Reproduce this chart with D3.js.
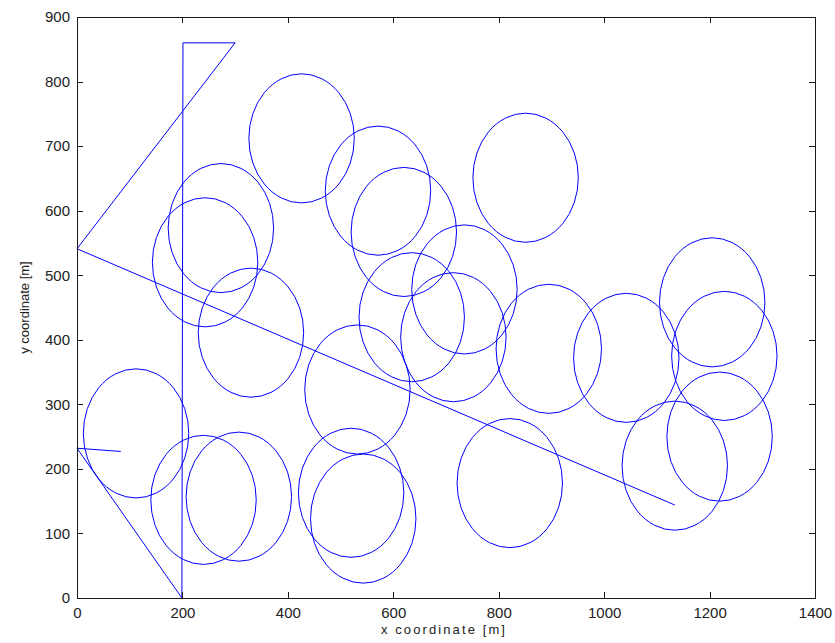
<!DOCTYPE html>
<html>
<head>
<meta charset="utf-8">
<script src="https://cdn.jsdelivr.net/npm/d3@7"></script>
<style>
  html, body { margin: 0; padding: 0; background: #fff; }
  svg { display: block; }
</style>
</head>
<body>
<svg id="chart" width="835" height="643"></svg>
<script>
// ---- data ----
const xTicks = [0, 200, 400, 600, 800, 1000, 1200, 1400];
const yTicks = [0, 100, 200, 300, 400, 500, 600, 700, 800, 900];

// sensor circle centres [m]
const circleX = [112, 240, 307, 426, 571, 273, 243, 330, 620, 635, 735, 714, 532, 851, 895, 520, 543, 821, 1042, 1205, 1228, 1219, 1134];
const circleY = [255, 152, 157, 712, 631, 573, 520, 411, 567, 435, 478, 404, 323, 651, 386, 163, 123, 178, 372, 458, 375, 250, 205];
const circleR = [100, 100, 100, 100, 100, 100, 100, 100, 100, 100, 100, 100, 100, 100, 100, 100, 100, 100, 100, 100, 100, 100, 100];

// trajectory
const pathX = [83, 0, 199, 201, 300, 0, 1134];
const pathY = [227, 232, 0, 860, 860, 541, 144];

const xLabel = "x coordinate [m]";
const yLabel = "y coordinate [m]";

// ---- layout ----
const svg = d3.select("#chart");
const mLeft = 77, mRight = 815, mTop = 17, mBottom = 598;

const x = d3.scaleLinear().domain([0, 1400]).range([mLeft, mRight]);
const y = d3.scaleLinear().domain([0, 900]).range([mBottom, mTop]);

const lineColor = "#0000ff";
const axisColor = "#1a1a1a";

// data layer
const g = svg.append("g");

g.selectAll("ellipse")
  .data(circleX.map((cx, i) => ({ cx, cy: circleY[i], r: circleR[i] })))
  .enter().append("ellipse")
  .attr("cx", d => x(d.cx))
  .attr("cy", d => y(d.cy))
  .attr("rx", d => x(d.r) - x(0))
  .attr("ry", d => y(0) - y(d.r))
  .attr("fill", "none")
  .attr("stroke", lineColor)
  .attr("stroke-width", 1);

const line = d3.line().x(d => x(d[0])).y(d => y(d[1]));
g.append("path")
  .datum(pathX.map((v, i) => [v, pathY[i]]))
  .attr("d", line)
  .attr("fill", "none")
  .attr("stroke", lineColor)
  .attr("stroke-width", 1);

// axes
const tickFont = "'Liberation Sans', Arial, sans-serif";

const xAxis = svg.append("g")
  .attr("transform", `translate(0,${mBottom})`)
  .call(d3.axisBottom(x).tickValues(xTicks).tickSize(-6).tickSizeOuter(0).tickPadding(9).tickFormat(d3.format("d")));
const yAxis = svg.append("g")
  .attr("transform", `translate(${mLeft},0)`)
  .call(d3.axisLeft(y).tickValues(yTicks).tickSize(-6).tickSizeOuter(0).tickPadding(7).tickFormat(d3.format("d")));
const xTop = svg.append("g")
  .attr("transform", `translate(0,${mTop})`)
  .call(d3.axisTop(x).tickValues(xTicks).tickSize(-6).tickSizeOuter(0).tickFormat(""));
const yRight = svg.append("g")
  .attr("transform", `translate(${mRight},0)`)
  .call(d3.axisRight(y).tickValues(yTicks).tickSize(-6).tickSizeOuter(0).tickFormat(""));

[xAxis, yAxis, xTop, yRight].forEach(a => {
  a.select(".domain").remove();
  a.selectAll("line").attr("stroke", axisColor).attr("shape-rendering", "crispEdges");
  a.selectAll("text")
    .attr("fill", "#222")
    .style("font-family", tickFont)
    .style("font-size", "15px");
});

svg.append("rect")
  .attr("x", mLeft).attr("y", mTop)
  .attr("width", mRight - mLeft).attr("height", mBottom - mTop)
  .attr("fill", "none")
  .attr("stroke", axisColor)
  .attr("stroke-width", 1)
  .attr("shape-rendering", "crispEdges");

// axis labels
svg.append("text")
  .attr("x", (mLeft + mRight) / 2 - 2)
  .attr("y", 633.5)
  .attr("text-anchor", "middle")
  .attr("fill", "#222")
  .style("font-family", tickFont)
  .style("font-size", "13px")
  .style("letter-spacing", "2.1px")
  .text(xLabel);

svg.append("text")
  .attr("transform", `translate(29,${(mTop + mBottom) / 2}) rotate(-90)`)
  .attr("text-anchor", "middle")
  .attr("fill", "#222")
  .style("font-family", tickFont)
  .style("font-size", "13px")
  .text(yLabel);
</script>
</body>
</html>
